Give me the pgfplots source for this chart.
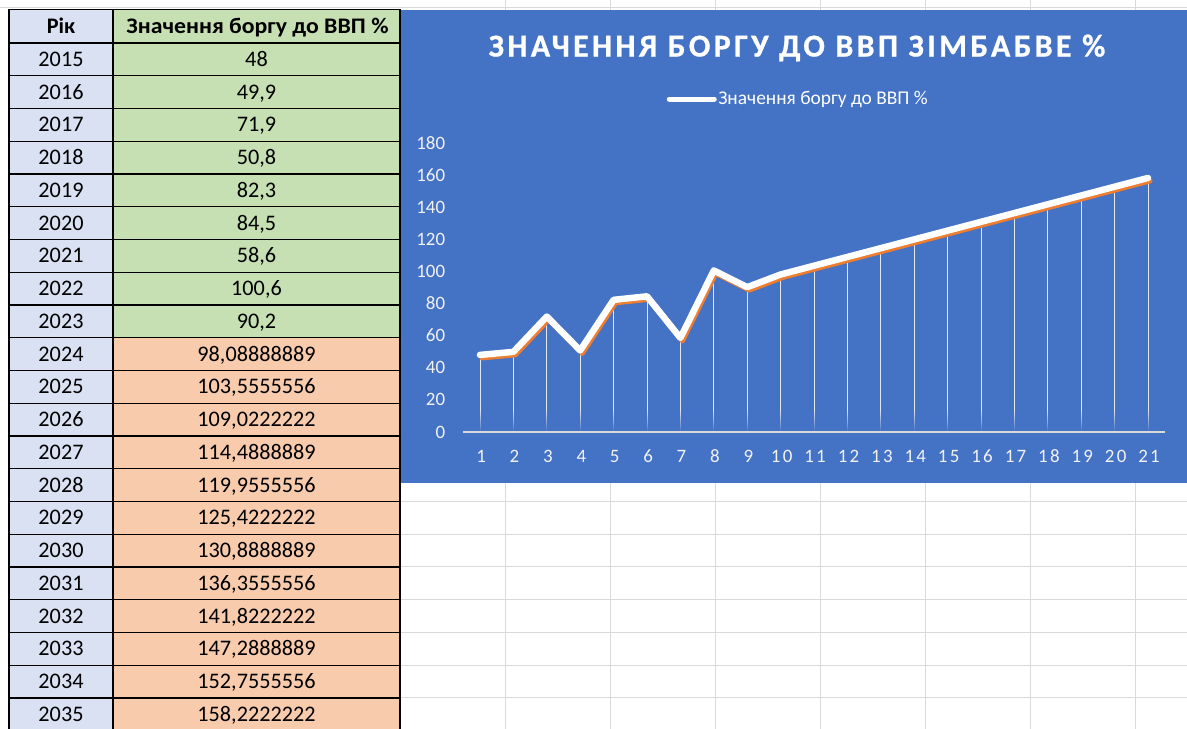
\documentclass[border=0pt]{standalone}
\usepackage{fontspec}
\setmainfont{Carlito}
\newfontfamily\titlefont[LetterSpace=10.5, BoldFeatures={FakeBold=0.8}]{Carlito}
\newfontfamily\xtickfont[LetterSpace=12]{Carlito}
\usepackage{pgfplots}
\pgfplotsset{compat=1.18}
\usepackage{pgfplotstable}
\usetikzlibrary{fadings}
\definecolor{chartblue}{HTML}{4472C4}
\definecolor{shadoworange}{HTML}{ED7D31}
\definecolor{hdrblue}{HTML}{D9E1F2}
\definecolor{cellgreen}{HTML}{C6E0B4}
\definecolor{cellpeach}{HTML}{F8CBAD}
\definecolor{gridgray}{HTML}{D9D9D9}
\definecolor{ticklbl}{HTML}{F2F2F2}

\pgfplotstableread{
x y
1 48
2 49.9
3 71.9
4 50.8
5 82.3
6 84.5
7 58.6
8 100.6
9 90.2
10 98.08888889
11 103.5555556
12 109.0222222
13 114.4888889
14 119.9555556
15 125.4222222
16 130.8888889
17 136.3555556
18 141.8222222
19 147.2888889
20 152.7555556
21 158.2222222
}\debt

\newcommand\trow[4]{%
  \pgfmathsetmacro\ytop{686-32.75*#1}%
  \pgfmathsetmacro\ybot{686-32.75*(#1+1)}%
  \pgfmathsetmacro\ybase{(\ytop+\ybot)/2-7.0}%
  \fill[hdrblue] (9,\ytop) rectangle (113,\ybot);
  \fill[#4] (113,\ytop) rectangle (400,\ybot);
  \node[anchor=base, inner sep=0pt] at (61,\ybase) {#2};
  \node[anchor=base, inner sep=0pt] at (256.5,\ybase) {#3};
}

\begin{document}
\begin{tikzpicture}[x=1bp, y=1bp, font=\fontsize{22.3}{25}\selectfont]
\useasboundingbox (0,0) rectangle (1187,729);
\clip (0,0) rectangle (1187,729);
\fill[white] (0,0) rectangle (1187,729);
% sheet gridlines
\draw[gridgray, line width=1pt] (0,721) -- (1187,721);
\foreach \k in {14,...,20} {\draw[gridgray, line width=1pt] (400,{686-32.75*\k}) -- (1187,{686-32.75*\k});}
\foreach \k in {0,...,6} {
  \draw[gridgray, line width=1pt] ({505+105*\k},0) -- ({505+105*\k},246);
  \draw[gridgray, line width=1pt] ({505+105*\k},719) -- ({505+105*\k},729);
}
% table header
\fill[hdrblue] (9,719.5) rectangle (113,686);
\fill[cellgreen] (113,719.5) rectangle (400,686);
\node[anchor=base, inner sep=0pt, font=\fontsize{22.3}{25}\selectfont\bfseries] at (61,695.2) {Рік};
\node[anchor=base, inner sep=0pt, font=\fontsize{22.3}{25}\selectfont\bfseries] at (257.5,695.2) {\scalebox{1.07}[1]{Значення боргу до ВВП \%}};
% table body
\trow{0}{2015}{48}{cellgreen}
\trow{1}{2016}{49,9}{cellgreen}
\trow{2}{2017}{71,9}{cellgreen}
\trow{3}{2018}{50,8}{cellgreen}
\trow{4}{2019}{82,3}{cellgreen}
\trow{5}{2020}{84,5}{cellgreen}
\trow{6}{2021}{58,6}{cellgreen}
\trow{7}{2022}{100,6}{cellgreen}
\trow{8}{2023}{90,2}{cellgreen}
\trow{9}{2024}{98,08888889}{cellpeach}
\trow{10}{2025}{103,5555556}{cellpeach}
\trow{11}{2026}{109,0222222}{cellpeach}
\trow{12}{2027}{114,4888889}{cellpeach}
\trow{13}{2028}{119,9555556}{cellpeach}
\trow{14}{2029}{125,4222222}{cellpeach}
\trow{15}{2030}{130,8888889}{cellpeach}
\trow{16}{2031}{136,3555556}{cellpeach}
\trow{17}{2032}{141,8222222}{cellpeach}
\trow{18}{2033}{147,2888889}{cellpeach}
\trow{19}{2034}{152,7555556}{cellpeach}
\trow{20}{2035}{158,2222222}{cellpeach}
\draw[black, line width=1.1pt] (9,719.5) -- (400,719.5);
\foreach \k in {0,...,20} {\draw[black, line width=1.1pt] (9,{686-32.75*\k}) -- (400,{686-32.75*\k});}
\draw[black, line width=1.1pt] (9,0) -- (9,719.5);
\draw[black, line width=1.1pt] (113,0) -- (113,719.5);
\draw[black, line width=1.1pt] (400,0) -- (400,719.5);
% chart area
\fill[chartblue] (401,246) rectangle (1187,719);
\begin{axis}[
  at={(463.3bp,297bp)}, anchor=south west, scale only axis,
  width=701.4bp, height=289bp,
  xmin=0.5, xmax=21.5, ymin=0, ymax=180,
  xtick={1,...,21}, ytick={0,20,...,180},
  axis x line=bottom, axis y line=left,
  y axis line style={draw=none},
  x axis line style={draw=gridgray, line width=1.2bp, -},
  major tick length=0pt,
  tick style={draw=none},
  tick label style={text=ticklbl, inner sep=0pt},
  xticklabel style={font=\xtickfont\fontsize{19}{21}\selectfont, anchor=north, yshift=-18bp, xshift=1.1bp, text height=12bp, text depth=0pt},
  yticklabel style={font=\fontsize{19}{21}\selectfont, anchor=east, xshift=-18bp},
  /pgf/number format/assume math mode=true,
  axis on top,
  clip=false,
  legend style={at={(0.4772,1.152)}, anchor=center, draw=none, fill=none,
    font=\fontsize{19.5}{22}\selectfont, text=white, inner sep=0pt,
    nodes={inner sep=1.5bp}},
  legend cell align=left,
  legend image code/.code={\draw[white, line width=5bp] (0bp,0bp) -- (45bp,0bp);},
]
\addplot[ycomb, draw=white, line width=1bp, opacity=0.85, mark=none, forget plot] table[x=x, y=y] {\debt};
\fill[chartblue, path fading=north] (axis cs:0.5,0) rectangle (axis cs:21.5,14);
\addplot[shadoworange, line width=5bp, line join=round, line cap=round, mark=none, xshift=2bp, yshift=-3bp, forget plot] table[x=x, y=y] {\debt};
\addplot[white, line width=6.5bp, line join=round, line cap=round, mark=none] table[x=x, y=y] {\debt};
\addlegendentry{Значення боргу до ВВП \%}
\end{axis}
\node[text=white, inner sep=0pt, font=\titlefont\bfseries\fontsize{32}{34}\selectfont] at (797,681) {ЗНАЧЕННЯ БОРГУ ДО ВВП ЗІМБАБВЕ \%};
\end{tikzpicture}
\end{document}
